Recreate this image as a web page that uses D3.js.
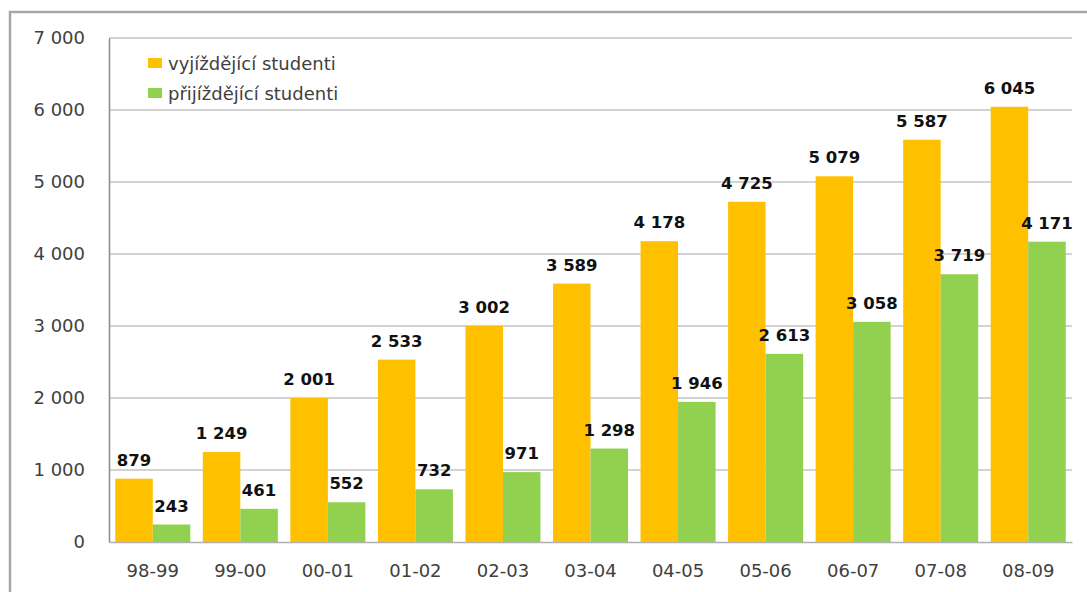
<!DOCTYPE html>
<html><head><meta charset="utf-8">
<script src="https://cdn.jsdelivr.net/npm/d3@7"></script>
<style>body{margin:0;background:#fff}svg{display:block}</style>
</head><body>
<svg id="c" width="1087" height="592"></svg>
<script>
const categories = ["98-99","99-00","00-01","01-02","02-03","03-04","04-05","05-06","06-07","07-08","08-09"];
const outgoing = [879,1249,2001,2533,3002,3589,4178,4725,5079,5587,6045];
const incoming = [243,461,552,732,971,1298,1946,2613,3058,3719,4171];
const seriesNames = ["vyjíždějící studenti","přijíždějící studenti"];
const seriesColors = ["#FFC000","#92D050"];
const yTicks = [0,1000,2000,3000,4000,5000,6000,7000];

const svg = d3.select("#c");
const font = "'DejaVu Sans', sans-serif";
const m = {left:109, right:1072, top:38, bottom:542};

// outer frame
svg.append("path").attr("d","M10,600 L10,12 L1100,12")
  .attr("fill","none").attr("stroke","#a6a6a6").attr("stroke-width",2.5);

const x = d3.scaleBand().domain(categories).range([m.left,m.right]).paddingInner(0.143).paddingOuter(0.0715);
const x0 = d3.scaleBand().domain(categories).range([m.left,m.right]);
const xs = d3.scaleBand().domain([0,1]).range([0,x.bandwidth()]);
const y = d3.scaleLinear().domain([0,7000]).range([m.bottom,m.top]);

// gridlines
svg.append("g").selectAll("line").data(yTicks.filter(d=>d>0)).join("line")
  .attr("x1",m.left).attr("x2",m.right).attr("y1",d=>y(d)).attr("y2",d=>y(d))
  .attr("stroke","#c4c4c4").attr("stroke-width",1.3);

// y axis
const yAxis = d3.axisLeft(y).tickValues(yTicks).tickSize(0).tickPadding(24)
  .tickFormat(d=>d3.format(",")(d).replace(/,/g," "));
const gy = svg.append("g").attr("transform",`translate(${m.left},0)`).call(yAxis);
gy.select(".domain").attr("stroke","#8c8c8c").attr("stroke-width",1.5);
gy.selectAll("text").attr("font-family",font).attr("font-size",18).attr("fill","#404040").attr("dy","0.28em");

// x axis
const xAxis = d3.axisBottom(x0).tickSize(0).tickPadding(22);
const gx = svg.append("g").attr("transform",`translate(0,${m.bottom})`).call(xAxis);
gx.select(".domain").attr("stroke","#b0b0b0").attr("stroke-width",1.5);
gx.selectAll("text").attr("font-family",font).attr("font-size",18).attr("fill","#404040");

const data = categories.map((c,i)=>({c, v:[outgoing[i],incoming[i]]}));
const groups = svg.append("g").selectAll("g").data(data).join("g")
  .attr("transform",d=>`translate(${x(d.c)},0)`);
groups.selectAll("rect").data(d=>d.v.map((v,k)=>({v,k}))).join("rect")
  .attr("x",d=>xs(d.k)).attr("width",xs.bandwidth())
  .attr("y",d=>y(d.v)).attr("height",d=>m.bottom-y(d.v))
  .attr("fill",d=>seriesColors[d.k]);
groups.selectAll("text").data(d=>d.v.map((v,k)=>({v,k}))).join("text")
  .attr("x",d=>xs(d.k)+xs.bandwidth()/2).attr("y",d=>y(d.v)-13)
  .attr("text-anchor","middle").attr("font-family",font).attr("font-size",16.5)
  .attr("font-weight","bold").attr("fill","#111")
  .text(d=>d3.format(",")(d.v).replace(/,/g," "));

// legend
const lg = svg.append("g");
seriesNames.forEach((n,i)=>{
  lg.append("rect").attr("x",148).attr("y",58+i*30).attr("width",14).attr("height",10).attr("fill",seriesColors[i]);
  lg.append("text").attr("x",168).attr("y",70+i*30).attr("font-family",font).attr("font-size",18)
    .attr("fill","#404040").text(n);
});
</script>
</body></html>
